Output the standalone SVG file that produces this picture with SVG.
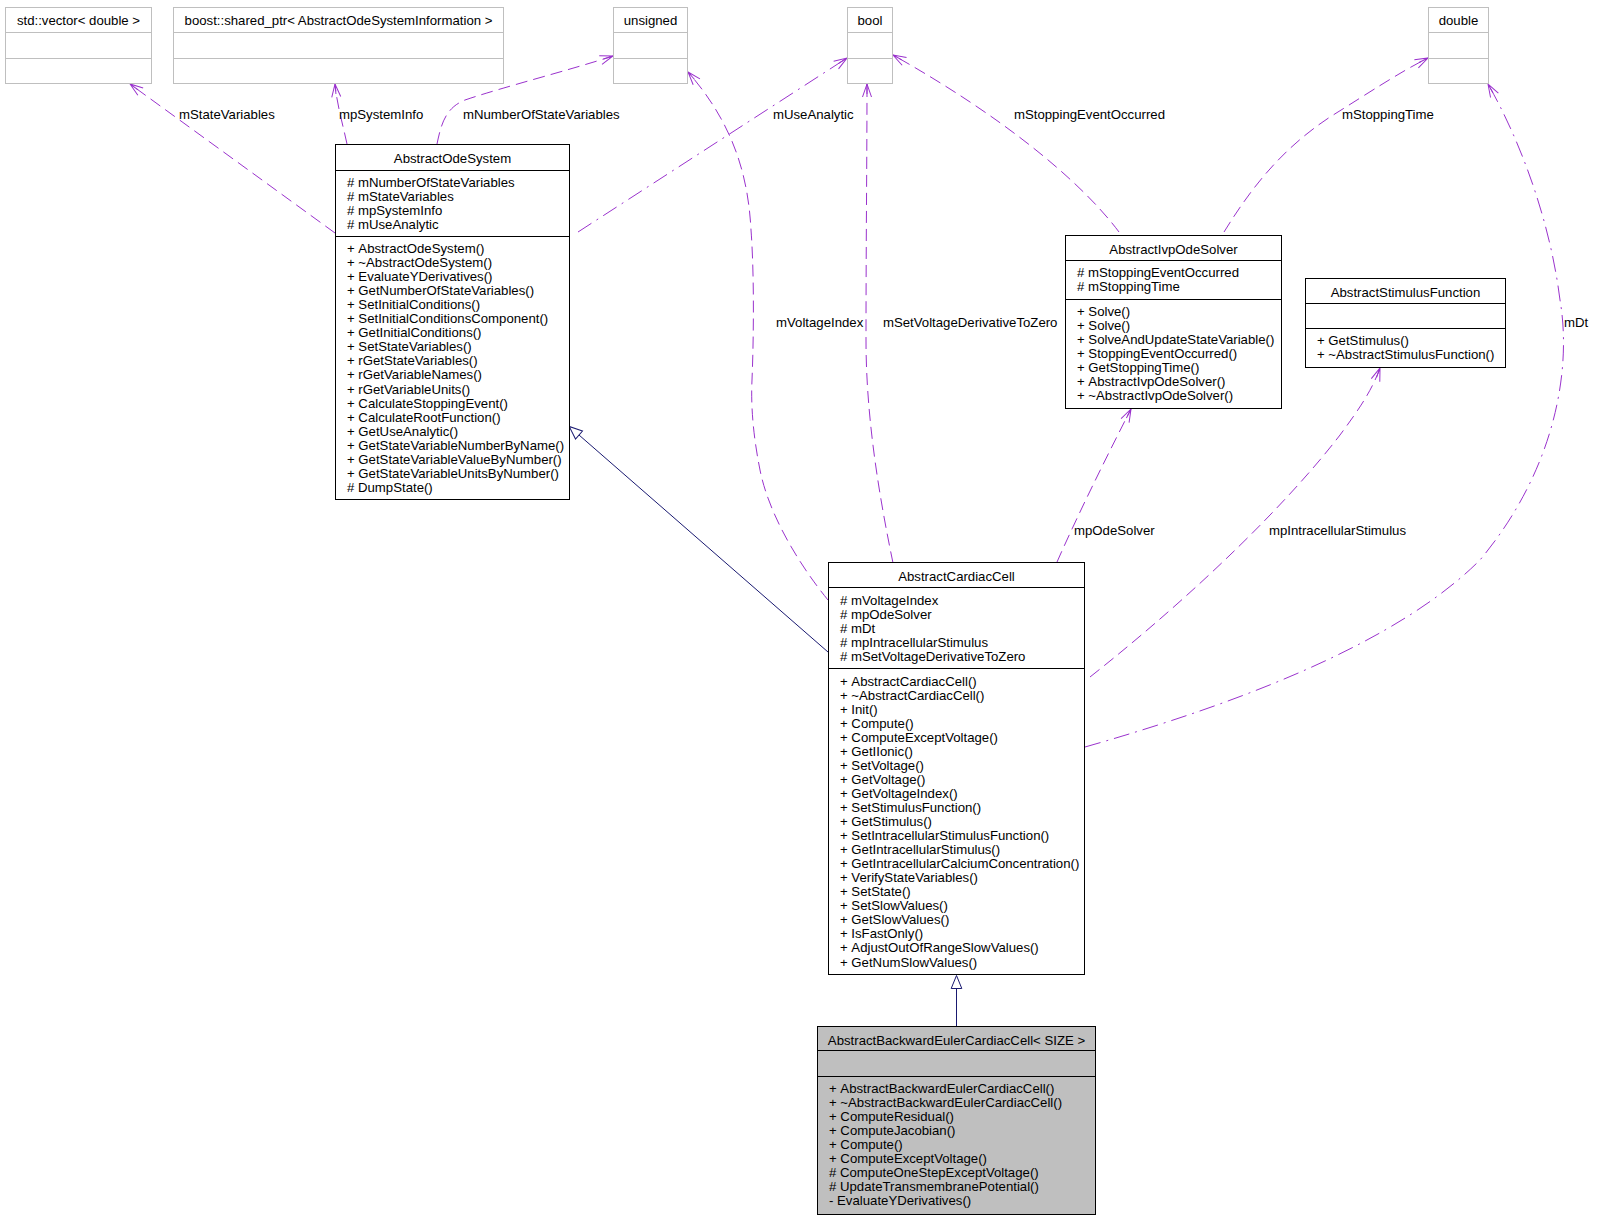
<svg xmlns="http://www.w3.org/2000/svg" width="1607" height="1219" viewBox="0 0 1607 1219">
<style>
text { font-family: "Liberation Sans", Arial, Helvetica, sans-serif; font-size: 13.2px; fill: #000; }
.c { text-anchor: middle; }
.box { fill: #fff; stroke: #000; stroke-width: 1; }
.gbox { fill: #fff; stroke: #bfbfbf; stroke-width: 1; }
.sel { fill: #bfbfbf; stroke: #000; stroke-width: 1; }
.div { stroke: #000; stroke-width: 1; }
.gdiv { stroke: #bfbfbf; stroke-width: 1; }
.e { fill: none; stroke: #9a32cd; stroke-width: 1; stroke-dasharray: 12,6; marker-end: url(#vee); }
.dd { stroke-dasharray: 16,6,2,6; }
.inh { fill: none; stroke: #191970; stroke-width: 1; marker-end: url(#inh); }
</style>
<defs>
<marker id="vee" markerUnits="userSpaceOnUse" markerWidth="16" markerHeight="12" viewBox="0 0 16 12" refX="14" refY="6" orient="auto">
<path d="M1,1.5 L14,6 L1,10.5 M4,6 L14,6" fill="none" stroke="#9a32cd" stroke-width="1"/>
</marker>
<marker id="inh" markerUnits="userSpaceOnUse" markerWidth="16" markerHeight="13" viewBox="0 0 16 13" refX="1" refY="6.5" orient="auto">
<path d="M1,1.2 L14,6.5 L1,11.8 Z" fill="#fff" stroke="#191970" stroke-width="1"/>
</marker>
</defs>
<rect width="1607" height="1219" fill="#fff"/>

<g id="connectors">
<path class="e" d="M335,233 L130,84"/>
<path class="e" d="M347,144 C343,125 337,105 335,84"/>
<path class="e" d="M437,144 C441,125 445,108 465,100 C500,88 570,70 613,56"/>
<path class="e dd" d="M578,232 L847,58"/>
<path class="e" d="M828,600 C805,572 770,520 760,470 C752,430 751,400 752,380 C754,330 754,270 751,230 C748,170 730,120 688,72"/>
<path class="e" d="M893,563 C880,500 866,420 866,340 C866,250 867,150 867,84"/>
<path class="e" d="M1119,232 C1080,180 1000,115 893,55"/>
<path class="e" d="M1224,232 C1250,190 1280,150 1330,117 C1370,92 1400,72 1428,58"/>
<path class="e" d="M1057,562 C1080,510 1110,450 1131,409"/>
<path class="e" d="M1090,677 C1200,590 1290,500 1340,435 C1360,408 1372,390 1380,368"/>
<path class="e dd" d="M1085,747 C1250,700 1400,640 1480,560 C1555,470 1572,370 1560,300 C1550,220 1520,140 1488,84"/>
<path class="inh" d="M828,652 L579,435"/>
<path class="inh" d="M956.5,1026.5 L956.5,988.5"/>
<text x="179" y="119">mStateVariables</text>
<text x="339" y="119">mpSystemInfo</text>
<text x="463" y="119">mNumberOfStateVariables</text>
<text x="773" y="119">mUseAnalytic</text>
<text x="1014" y="119">mStoppingEventOccurred</text>
<text x="1342" y="119">mStoppingTime</text>
<text x="776" y="327">mVoltageIndex</text>
<text x="883" y="327">mSetVoltageDerivativeToZero</text>
<text x="1564" y="327">mDt</text>
<text x="1074" y="535">mpOdeSolver</text>
<text x="1269" y="535">mpIntracellularStimulus</text>
</g>

<g id="std_vector">
<rect class="gbox" x="5.5" y="7.5" width="146" height="76"/>
<line class="gdiv" x1="5.5" y1="32.5" x2="151.5" y2="32.5"/>
<line class="gdiv" x1="5.5" y1="58.5" x2="151.5" y2="58.5"/>
<text class="c" x="78.5" y="25">std::vector&lt; double &gt;</text>
</g>

<g id="boost_shared_ptr">
<rect class="gbox" x="173.5" y="7.5" width="330" height="76"/>
<line class="gdiv" x1="173.5" y1="32.5" x2="503.5" y2="32.5"/>
<line class="gdiv" x1="173.5" y1="58.5" x2="503.5" y2="58.5"/>
<text class="c" x="338.5" y="25">boost::shared_ptr&lt; AbstractOdeSystemInformation &gt;</text>
</g>

<g id="unsigned">
<rect class="gbox" x="613.5" y="7.5" width="74" height="76"/>
<line class="gdiv" x1="613.5" y1="32.5" x2="687.5" y2="32.5"/>
<line class="gdiv" x1="613.5" y1="58.5" x2="687.5" y2="58.5"/>
<text class="c" x="650.5" y="25">unsigned</text>
</g>

<g id="bool">
<rect class="gbox" x="847.5" y="7.5" width="45" height="76"/>
<line class="gdiv" x1="847.5" y1="32.5" x2="892.5" y2="32.5"/>
<line class="gdiv" x1="847.5" y1="58.5" x2="892.5" y2="58.5"/>
<text class="c" x="870" y="25">bool</text>
</g>

<g id="double">
<rect class="gbox" x="1428.5" y="7.5" width="60" height="76"/>
<line class="gdiv" x1="1428.5" y1="32.5" x2="1488.5" y2="32.5"/>
<line class="gdiv" x1="1428.5" y1="58.5" x2="1488.5" y2="58.5"/>
<text class="c" x="1458.5" y="25">double</text>
</g>

<g id="AbstractOdeSystem">
<rect class="box" x="335.5" y="144.5" width="234" height="355"/>
<line class="div" x1="335.5" y1="170.5" x2="569.5" y2="170.5"/>
<line class="div" x1="335.5" y1="236.5" x2="569.5" y2="236.5"/>
<text class="c" x="452.5" y="163">AbstractOdeSystem</text>
<text x="347" y="187">
<tspan x="347">#&#160;mNumberOfStateVariables</tspan>
<tspan x="347" dy="14">#&#160;mStateVariables</tspan>
<tspan x="347" dy="14">#&#160;mpSystemInfo</tspan>
<tspan x="347" dy="14">#&#160;mUseAnalytic</tspan>
</text>
<text x="347" y="253">
<tspan x="347">+&#160;AbstractOdeSystem()</tspan>
<tspan x="347" dy="14.05">+&#160;~AbstractOdeSystem()</tspan>
<tspan x="347" dy="14.05">+&#160;EvaluateYDerivatives()</tspan>
<tspan x="347" dy="14.05">+&#160;GetNumberOfStateVariables()</tspan>
<tspan x="347" dy="14.05">+&#160;SetInitialConditions()</tspan>
<tspan x="347" dy="14.05">+&#160;SetInitialConditionsComponent()</tspan>
<tspan x="347" dy="14.05">+&#160;GetInitialConditions()</tspan>
<tspan x="347" dy="14.05">+&#160;SetStateVariables()</tspan>
<tspan x="347" dy="14.05">+&#160;rGetStateVariables()</tspan>
<tspan x="347" dy="14.05">+&#160;rGetVariableNames()</tspan>
<tspan x="347" dy="14.05">+&#160;rGetVariableUnits()</tspan>
<tspan x="347" dy="14.05">+&#160;CalculateStoppingEvent()</tspan>
<tspan x="347" dy="14.05">+&#160;CalculateRootFunction()</tspan>
<tspan x="347" dy="14.05">+&#160;GetUseAnalytic()</tspan>
<tspan x="347" dy="14.05">+&#160;GetStateVariableNumberByName()</tspan>
<tspan x="347" dy="14.05">+&#160;GetStateVariableValueByNumber()</tspan>
<tspan x="347" dy="14.05">+&#160;GetStateVariableUnitsByNumber()</tspan>
<tspan x="347" dy="14.05">#&#160;DumpState()</tspan>
</text>
</g>

<g id="AbstractIvpOdeSolver">
<rect class="box" x="1065.5" y="235.5" width="216" height="173"/>
<line class="div" x1="1065.5" y1="260.5" x2="1281.5" y2="260.5"/>
<line class="div" x1="1065.5" y1="299.5" x2="1281.5" y2="299.5"/>
<text class="c" x="1173.5" y="254">AbstractIvpOdeSolver</text>
<text x="1077" y="277">
<tspan x="1077">#&#160;mStoppingEventOccurred</tspan>
<tspan x="1077" dy="14">#&#160;mStoppingTime</tspan>
</text>
<text x="1077" y="316">
<tspan x="1077">+&#160;Solve()</tspan>
<tspan x="1077" dy="14">+&#160;Solve()</tspan>
<tspan x="1077" dy="14">+&#160;SolveAndUpdateStateVariable()</tspan>
<tspan x="1077" dy="14">+&#160;StoppingEventOccurred()</tspan>
<tspan x="1077" dy="14">+&#160;GetStoppingTime()</tspan>
<tspan x="1077" dy="14">+&#160;AbstractIvpOdeSolver()</tspan>
<tspan x="1077" dy="14">+&#160;~AbstractIvpOdeSolver()</tspan>
</text>
</g>

<g id="AbstractStimulusFunction">
<rect class="box" x="1305.5" y="278.5" width="200" height="89"/>
<line class="div" x1="1305.5" y1="303.5" x2="1505.5" y2="303.5"/>
<line class="div" x1="1305.5" y1="328.5" x2="1505.5" y2="328.5"/>
<text class="c" x="1405.5" y="297">AbstractStimulusFunction</text>
<text x="1317" y="345">
<tspan x="1317">+&#160;GetStimulus()</tspan>
<tspan x="1317" dy="14">+&#160;~AbstractStimulusFunction()</tspan>
</text>
</g>

<g id="AbstractCardiacCell">
<rect class="box" x="828.5" y="562.5" width="256" height="412"/>
<line class="div" x1="828.5" y1="587.5" x2="1084.5" y2="587.5"/>
<line class="div" x1="828.5" y1="668.5" x2="1084.5" y2="668.5"/>
<text class="c" x="956.5" y="581">AbstractCardiacCell</text>
<text x="840" y="604.5">
<tspan x="840">#&#160;mVoltageIndex</tspan>
<tspan x="840" dy="14">#&#160;mpOdeSolver</tspan>
<tspan x="840" dy="14">#&#160;mDt</tspan>
<tspan x="840" dy="14">#&#160;mpIntracellularStimulus</tspan>
<tspan x="840" dy="14">#&#160;mSetVoltageDerivativeToZero</tspan>
</text>
<text x="840" y="685.5">
<tspan x="840">+&#160;AbstractCardiacCell()</tspan>
<tspan x="840" dy="14.05">+&#160;~AbstractCardiacCell()</tspan>
<tspan x="840" dy="14.05">+&#160;Init()</tspan>
<tspan x="840" dy="14.05">+&#160;Compute()</tspan>
<tspan x="840" dy="14.05">+&#160;ComputeExceptVoltage()</tspan>
<tspan x="840" dy="14.05">+&#160;GetIIonic()</tspan>
<tspan x="840" dy="14.05">+&#160;SetVoltage()</tspan>
<tspan x="840" dy="14.05">+&#160;GetVoltage()</tspan>
<tspan x="840" dy="14.05">+&#160;GetVoltageIndex()</tspan>
<tspan x="840" dy="14.05">+&#160;SetStimulusFunction()</tspan>
<tspan x="840" dy="14.05">+&#160;GetStimulus()</tspan>
<tspan x="840" dy="14.05">+&#160;SetIntracellularStimulusFunction()</tspan>
<tspan x="840" dy="14.05">+&#160;GetIntracellularStimulus()</tspan>
<tspan x="840" dy="14.05">+&#160;GetIntracellularCalciumConcentration()</tspan>
<tspan x="840" dy="14.05">+&#160;VerifyStateVariables()</tspan>
<tspan x="840" dy="14.05">+&#160;SetState()</tspan>
<tspan x="840" dy="14.05">+&#160;SetSlowValues()</tspan>
<tspan x="840" dy="14.05">+&#160;GetSlowValues()</tspan>
<tspan x="840" dy="14.05">+&#160;IsFastOnly()</tspan>
<tspan x="840" dy="14.05">+&#160;AdjustOutOfRangeSlowValues()</tspan>
<tspan x="840" dy="14.05">+&#160;GetNumSlowValues()</tspan>
</text>
</g>

<g id="AbstractBackwardEulerCardiacCell">
<rect class="sel" x="817.5" y="1026.5" width="278" height="188"/>
<line class="div" x1="817.5" y1="1050.5" x2="1095.5" y2="1050.5"/>
<line class="div" x1="817.5" y1="1076.5" x2="1095.5" y2="1076.5"/>
<text class="c" x="956.5" y="1044.5">AbstractBackwardEulerCardiacCell&lt; SIZE &gt;</text>
<text x="829" y="1093">
<tspan x="829">+&#160;AbstractBackwardEulerCardiacCell()</tspan>
<tspan x="829" dy="14.05">+&#160;~AbstractBackwardEulerCardiacCell()</tspan>
<tspan x="829" dy="14.05">+&#160;ComputeResidual()</tspan>
<tspan x="829" dy="14.05">+&#160;ComputeJacobian()</tspan>
<tspan x="829" dy="14.05">+&#160;Compute()</tspan>
<tspan x="829" dy="14.05">+&#160;ComputeExceptVoltage()</tspan>
<tspan x="829" dy="14.05">#&#160;ComputeOneStepExceptVoltage()</tspan>
<tspan x="829" dy="14.05">#&#160;UpdateTransmembranePotential()</tspan>
<tspan x="829" dy="14.05">-&#160;EvaluateYDerivatives()</tspan>
</text>
</g>
</svg>
